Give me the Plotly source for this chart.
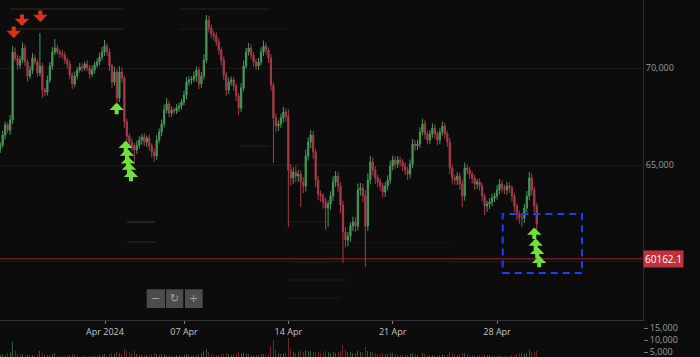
import plotly.graph_objects as go
from datetime import datetime, timedelta

# ---------------- data ----------------
first_open = 65800
closes = [
    66030, 66546, 67061, 66804, 67320, 70824, 70515, 70154, 70412, 71031,
    70309, 69587, 69897, 70515, 70309, 69742, 70103, 68866, 68762, 69381,
    70103, 70824, 71031, 70824, 70721, 70670, 70412, 70206, 69639, 69175,
    69587, 69897, 70051, 70000, 70206, 70000, 69690, 69897, 70154, 70309,
    70567, 70824, 71134, 70824, 70103, 69278, 69794, 68453, 69794, 69484,
    67216, 66494, 66185, 65979, 65773, 66030, 66288, 66443, 66185, 66391,
    65979, 65670, 65463, 66288, 66700, 67113, 67835, 68144, 67680, 67835,
    67783, 67938, 68041, 68247, 68608, 69278, 69381, 69432, 69587, 69897,
    69175, 69587, 70412, 72474, 72061, 71752, 71649, 71340, 70927, 70412,
    69639, 68866, 69278, 69381, 69072, 68556, 67938, 68969, 70103, 70824,
    71031, 70670, 70309, 70103, 70309, 70824, 71134, 70927, 70515, 69123,
    67422, 67009, 67113, 67422, 67731, 67525, 64742, 64329, 64639, 64432,
    64535, 64123, 63917, 65463, 66185, 66546, 65670, 64226, 63504, 63401,
    63092, 62783, 62989, 63401, 64123, 64432, 63917, 62937, 61545, 61133,
    61339, 61855, 62061, 61855, 63710, 63814, 63401, 61855, 64226, 65154,
    64742, 64329, 64123, 63917, 63607, 63917, 64226, 64948, 65257, 65051,
    65257, 65154, 64948, 64742, 64535, 65051, 66082, 65979, 66082, 66700,
    67113, 66597, 66288, 66597, 66906, 66597, 66288, 66700, 67009, 66597,
    66185, 64845, 64329, 64226, 64432, 64020, 63401, 64845, 64742, 64535,
    64329, 64020, 64123, 63917, 63401, 62886, 62989, 63092, 63298, 63401,
    63710, 64020, 63814, 63710, 63917, 63814, 63401, 62886, 62474, 62268,
    62268, 62783, 63401, 64329, 63710, 62886, 61958,
]
hi_ext = [
    150, 220, 180, 130, 260, 310, 240, 160, 200, 280,
    190, 140, 210, 250, 170, 130, 1700, 160, 120, 230,
    200, 260, 460, 180, 150, 220, 170, 130, 190, 140,
    230, 160, 210, 180, 120, 200, 150, 240, 170, 190,
    220, 260, 310, 150, 180, 130, 270, 160, 300, 210,
    140, 170, 120, 180, 150, 230, 190, 160, 210, 130,
    170, 140, 200, 250, 190, 230, 280, 310, 160, 180,
    140, 200, 170, 150, 220, 260, 190, 140, 230, 180,
    160, 210, 300, 260, 220, 180, 150, 200, 170, 140,
    190, 160, 230, 180, 150, 130, 170, 240, 280, 220,
    260, 190, 150, 170, 210, 230, 280, 180, 150, 200,
    130, 240, 190, 220, 260, 180, 350, 290, 240, 310,
    220, 180, 260, 330, 240, 260, 200, 170, 230, 190,
    150, 210, 180, 240, 290, 250, 200, 170, 230, 260,
    210, 190, 280, 240, 330, 260, 220, 300, 350, 310,
    240, 200, 170, 190, 160, 210, 240, 270, 220, 190,
    200, 170, 150, 180, 160, 230, 260, 200, 220, 240,
    270, 190, 160, 210, 240, 180, 150, 200, 230, 170,
    150, 210, 180, 160, 200, 170, 220, 280, 190, 160,
    140, 170, 150, 190, 160, 130, 180, 200, 220, 170,
    240, 260, 190, 170, 210, 180, 150, 160, 140, 190,
    230, 200, 260, 310, 240, 180, 160,
]
lo_ext = [
    180, 140, 220, 160, 240, 200, 170, 250, 190, 150,
    230, 280, 160, 200, 140, 190, 170, 410, 220, 180,
    150, 200, 160, 130, 210, 170, 190, 240, 220, 260,
    160, 180, 140, 200, 150, 170, 230, 160, 190, 140,
    170, 150, 200, 220, 260, 300, 180, 260, 210, 240,
    320, 280, 230, 260, 670, 210, 180, 240, 200, 260,
    230, 280, 310, 190, 170, 210, 180, 160, 220, 190,
    170, 150, 200, 180, 160, 210, 190, 220, 170, 280,
    260, 200, 180, 150, 230, 210, 250, 200, 240, 280,
    260, 300, 220, 190, 240, 260, 360, 200, 170, 150,
    190, 220, 240, 200, 180, 160, 210, 240, 260, 300,
    2320, 320, 260, 210, 240, 280, 2940, 380, 300, 330,
    290, 1290, 360, 280, 230, 310, 350, 380, 320, 300,
    340, 1130, 980, 290, 260, 240, 300, 420, 1600, 380,
    330, 290, 260, 310, 240, 280, 320, 2110, 260, 230,
    280, 310, 260, 240, 290, 250, 220, 200, 230, 260,
    210, 240, 280, 260, 300, 230, 200, 240, 210, 190,
    170, 260, 230, 210, 190, 240, 260, 210, 190, 230,
    260, 320, 280, 240, 260, 300, 570, 240, 230, 260,
    280, 300, 260, 240, 280, 460, 300, 260, 230, 210,
    190, 220, 240, 210, 230, 250, 280, 300, 320, 290,
    470, 260, 230, 210, 280, 330, 300,
]
volumes = [
    3800, 4200, 3900, 4500, 5200, 9200, 5600, 4300, 3900, 4100,
    3700, 4000, 3600, 3800, 3500, 3700, 5400, 4600, 3900, 3600,
    3800, 4100, 4400, 3500, 3300, 3400, 3200, 3600, 3900, 4200,
    3700, 3400, 3100, 3300, 3200, 3000, 3500, 3300, 3200, 3400,
    3600, 3900, 4300, 3800, 4100, 4600, 4000, 5200, 4400, 4300,
    6100, 5400, 4800, 4600, 5300, 4200, 3900, 3700, 3600, 3800,
    3900, 4200, 4400, 4000, 3800, 4100, 4300, 3900, 3600, 3500,
    3400, 3600, 3700, 3500, 3800, 4200, 3700, 3500, 3600, 3900,
    4100, 4400, 5600, 6200, 4800, 4200, 3900, 3700, 3800, 4000,
    4300, 4700, 4100, 3800, 4000, 4300, 4900, 4400, 4600, 4300,
    4100, 3900, 3800, 3600, 3700, 4000, 4200, 3900, 4100, 7400,
    10100, 5900, 4600, 4200, 4400, 4700, 11000, 6300, 5100, 4600,
    4800, 5600, 5200, 5700, 5300, 5500, 4900, 5200, 5000, 4600,
    4800, 5400, 5100, 4700, 4900, 4600, 4800, 5300, 8100, 5900,
    5200, 4800, 4600, 4500, 5400, 4900, 4700, 7100, 5600, 5200,
    4800, 4500, 4300, 4200, 4400, 4100, 4300, 4600, 4400, 4100,
    3900, 3800, 3700, 3900, 3800, 4100, 4500, 4000, 3800, 4200,
    4400, 4000, 3800, 3700, 3900, 3600, 3500, 3800, 4000, 3700,
    3600, 4800, 4400, 4000, 3800, 4100, 4700, 4500, 4000, 3800,
    3600, 3700, 3500, 3600, 3800, 4200, 3900, 3700, 3500, 3400,
    3300, 3500, 3400, 3300, 3500, 3400, 3600, 3900, 4300, 4500,
    4400, 4100, 4600, 5800, 4900, 5200, 5600,
]
first_candle = datetime(2024, 3, 25, 16, 0)
candle_hours = 4

x_tick_dates = ["2024-04-01 16:48", "2024-04-07", "2024-04-14", "2024-04-21", "2024-04-28"]
x_tick_labels = ["Apr 2024", "07 Apr", "14 Apr", "21 Apr", "28 Apr"]
price_ticks = [60000, 65000, 70000]
price_tick_labels = ["", "65,000", "70,000"]
vol_ticks = [5000, 10000, 15000]
vol_tick_labels = ["5,000", "10,000", "15,000"]

last_price = 60162.1

sell_signals = [("2024-03-26 13:47", 71546), ("2024-03-27 03:07", 72165), ("2024-03-28 08:37", 72371)]
buy_signals = [
    ("2024-04-02 11:37", 68211), ("2024-04-03 02:07", 66252), ("2024-04-03 04:13", 65850),
    ("2024-04-03 05:49", 65443), ("2024-04-03 07:25", 65123), ("2024-04-03 10:37", 64752),
    ("2024-04-30 12:01", 61777), ("2024-04-30 14:17", 61210), ("2024-04-30 16:43", 60788),
    ("2024-04-30 19:55", 60319),
]
focus_box = dict(start="2024-04-28 09:15", end="2024-05-03 16:55", low=59432, high=62473)

# order-book levels: (price, from, to, alpha, tint)
book_levels = [
    (73041, "2024-03-26 08:00", "2024-04-02 22:00", 0.22, "olive"),
    (73041, "2024-04-06 17:40", "2024-04-12 18:20", 0.16, "olive"),
    (72010, "2024-03-26 10:00", "2024-04-02 22:00", 0.24, "olive"),
    (72010, "2024-04-06 17:40", "2024-04-13 21:50", 0.10, "olive"),
    (65979, "2024-04-10 18:00", "2024-04-12 18:20", 0.16, "gray"),
    (64990, "2024-04-10 18:00", "2024-04-16 19:00", 0.14, "gray"),
    (62061, "2024-04-03 04:00", "2024-04-05 01:30", 0.30, "olive"),
    (62061, "2024-04-14 02:45", "2024-04-16 19:00", 0.12, "olive"),
    (61030, "2024-04-03 04:00", "2024-04-05 01:30", 0.20, "olive"),
    (61000, "2024-04-16 03:00", "2024-04-24 20:15", 0.10, "brown"),
    (60010, "2024-04-14 02:45", "2024-04-16 19:00", 0.20, "olive"),
    (60010, "2024-04-24 20:15", "2024-04-30 21:15", 0.18, "olive"),
    (59071, "2024-04-14 00:00", "2024-04-18 00:00", 0.10, "gray"),
    (58143, "2024-04-14 00:00", "2024-04-17 12:00", 0.10, "olive"),
]

# ---------------- build ----------------
times = [first_candle + timedelta(hours=candle_hours * i) for i in range(len(closes))]
opens = [first_open] + closes[:-1]
highs = [max(o, c) + h for o, c, h in zip(opens, closes, hi_ext)]
lows = [min(o, c) - l for o, c, l in zip(opens, closes, lo_ext)]

UP = "#45985a"
DN = "#a93a4a"

fig = go.Figure()
fig.add_trace(go.Candlestick(
    x=times, open=opens, high=highs, low=lows, close=closes,
    increasing=dict(line=dict(color=UP, width=1), fillcolor=UP),
    decreasing=dict(line=dict(color=DN, width=1), fillcolor=DN),
    whiskerwidth=0, xaxis="x", yaxis="y", hoverinfo="skip",
))
vol_colors = ["rgba(74,163,92,0.55)" if c >= o else "rgba(184,58,76,0.55)" for o, c in zip(opens, closes)]
fig.add_trace(go.Bar(
    x=times, y=volumes, marker=dict(color=vol_colors, line=dict(width=0)),
    width=candle_hours * 3600 * 1000 * 0.4, xaxis="x2", yaxis="y2", hoverinfo="skip",
))

tints = {"olive": "120,120,60", "gray": "110,110,110", "brown": "120,80,60"}
shapes = []
for price, a, b, alpha, tint in book_levels:
    shapes.append(dict(type="line", xref="x", yref="y", x0=a, x1=b, y0=price, y1=price,
                       line=dict(color=f"rgba({tints[tint]},{alpha})", width=1.5), layer="below"))

shapes.append(dict(type="line", xref="paper", yref="y", x0=0, x1=643 / 700, y0=last_price, y1=last_price,
                   line=dict(color="#a3222e", width=1)))
shapes.append(dict(type="rect", xref="x", yref="y", x0=focus_box["start"], x1=focus_box["end"],
                   y0=focus_box["low"], y1=focus_box["high"],
                   line=dict(color="#1f3dff", width=2, dash="7px,5px")))

# zoom buttons
H = 357
btns = [(146.7, 165.0, "\u2212"), (166.0, 183.3, "\u21bb"), (185.0, 202.7, "+")]
annotations = []
for x0, x1, sym in btns:
    shapes.append(dict(type="rect", xref="paper", yref="paper", x0=x0 / 700, x1=x1 / 700,
                       y0=1 - 308 / H, y1=1 - 289.3 / H, fillcolor="#4c4c4c", line=dict(width=0)))
    annotations.append(dict(xref="paper", yref="paper", x=(x0 + x1) / 2 / 700, y=1 - 298.6 / H,
                            text=sym, showarrow=False, font=dict(color="#a0a0a0", size=11, family="DejaVu Sans"),
                            xanchor="center", yanchor="middle"))

for t, p in buy_signals:
    annotations.append(dict(x=t, y=p, xref="x", yref="y", text="", showarrow=True, arrowhead=1,
                            arrowsize=0.6, arrowwidth=4, arrowcolor="#72e03c", ax=0, ay=13))
for t, p in sell_signals:
    annotations.append(dict(x=t, y=p, xref="x", yref="y", text="", showarrow=True, arrowhead=1,
                            arrowsize=0.6, arrowwidth=4, arrowcolor="#d8321e", ax=0, ay=-13))

annotations.append(dict(xref="paper", yref="y", x=643 / 700, y=last_price, text=f"{last_price}",
                        showarrow=False, xanchor="left", yanchor="middle", bgcolor="#c2303c",
                        font=dict(color="#ffffff", size=10, family="Open Sans"), borderpad=1))

fig.update_layout(
    width=700, height=357, margin=dict(l=0, r=0, t=0, b=0),
    paper_bgcolor="#0c0c0c", plot_bgcolor="#0c0c0c", showlegend=False,
    shapes=shapes, annotations=annotations, bargap=0,
    xaxis=dict(domain=[0, 643 / 700], range=["2024-03-25 15:43", "2024-05-07 19:05"], type="date",
               anchor="y", showgrid=False, zeroline=False, showline=True, linecolor="#333333",
               ticks="outside", ticklen=3, tickcolor="#777777", tickvals=x_tick_dates, ticktext=x_tick_labels,
               tickfont=dict(color="#c4c4c4", size=9, family="Open Sans"),
               rangeslider=dict(visible=False), automargin=False, fixedrange=True),
    yaxis=dict(domain=[37 / 357, 1], range=[57010, 73505], side="right", anchor="x",
               showline=True, linecolor="#2a2a2a", zeroline=False, showgrid=True, gridcolor="#181818",
               tickvals=price_ticks, ticktext=price_tick_labels, ticks="",
               tickfont=dict(color="#9c9c9c", size=9, family="Open Sans"), automargin=False),
    xaxis2=dict(domain=[0, 643 / 700], matches="x", anchor="y2", visible=False),
    yaxis2=dict(domain=[0, 37 / 357], range=[2917, 18333], side="right", anchor="x2",
                showgrid=False, zeroline=False, showline=False, ticklabeloverflow="allow",
                tickvals=vol_ticks, ticktext=vol_tick_labels, ticks="outside", ticklen=4, tickcolor="#777777",
                tickfont=dict(color="#9c9c9c", size=9, family="Open Sans"), automargin=False),
)

fig.write_html("out.html", config={"displayModeBar": False},
               post_script="document.body.style.margin='0px';document.body.style.background='#0c0c0c';")
